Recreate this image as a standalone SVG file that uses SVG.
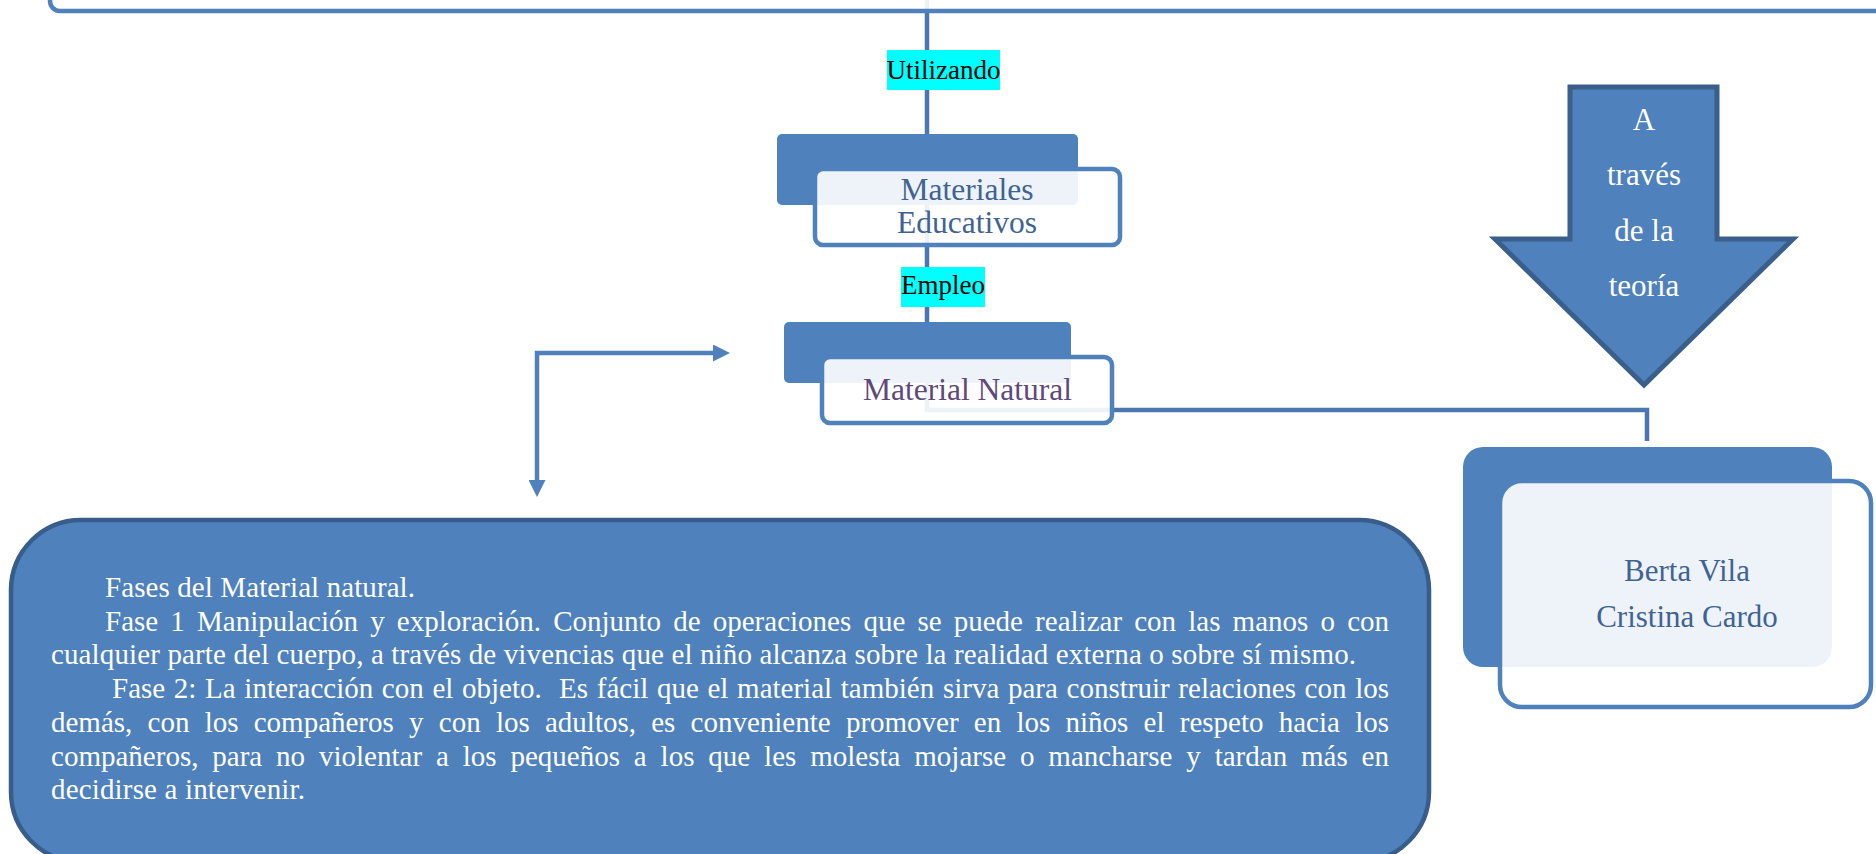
<svg xmlns="http://www.w3.org/2000/svg" width="1876" height="854" viewBox="0 0 1876 854">
<style>
.conn{fill:none;stroke:#4A77B0;stroke-width:4.5}
.back{fill:#4F81BD}
.front{fill:#FFFFFF;fill-opacity:0.9;stroke:#4F81BD;stroke-width:4.5}
.lbl{font-family:"Liberation Serif","Times New Roman",serif;font-size:27px;fill:#000000;text-anchor:middle}
.node{font-family:"Liberation Serif","Times New Roman",serif;font-size:31.5px;fill:#3F6393;text-anchor:middle}
.arrowtxt{font-family:"Liberation Serif","Times New Roman",serif;font-size:31px;fill:#FFFFFF;text-anchor:middle}
.body{font-family:"Liberation Serif","Times New Roman",serif;font-size:29px;fill:#FFFFFF}
</style>
<defs>
<marker id="ah" viewBox="0 0 17 17" refX="0" refY="8.5" markerWidth="17" markerHeight="17" markerUnits="userSpaceOnUse" orient="auto-start-reverse">
<path d="M0,0 L17,8.5 L0,17 z" fill="#4F81BD"/>
</marker>
</defs>

<g id="connectors">
<path class="conn" d="M927 0 V322"/>
<path class="conn" d="M927 383 V410 H1647 V441"/>
<path d="M537 480 V353 H713" fill="none" stroke="#4F81BD" stroke-width="4.5" marker-start="url(#ah)" marker-end="url(#ah)"/>
</g>

<g id="top-box">
<rect x="50" y="-40" width="1900" height="51" rx="10" class="front"/>
</g>

<g id="label-utilizando">
<rect x="887" y="50" width="113" height="40" fill="#00FFFF"/>
<text x="943.5" y="79" class="lbl">Utilizando</text>
</g>

<g id="materiales-educativos">
<rect x="777" y="134" width="301" height="71" rx="5" class="back"/>
<rect x="815" y="169" width="305" height="76" rx="8" class="front"/>
<text x="967" y="200" class="node">Materiales</text>
<text x="967" y="233" class="node">Educativos</text>
</g>

<g id="label-empleo">
<rect x="901" y="267" width="84" height="40" fill="#00FFFF"/>
<text x="943" y="294" class="lbl">Empleo</text>
</g>

<g id="material-natural">
<rect x="784" y="322" width="287" height="61" rx="5" class="back"/>
<rect x="822" y="357" width="290" height="66" rx="8" class="front"/>
<text x="967.5" y="400" class="node" fill="#5F497A" style="fill:#5F497A">Material Natural</text>
</g>

<g id="arrow-teoria">
<polygon points="1570,87 1717,87 1717,239 1793,239 1644,385 1495,239 1570,239" fill="#4F81BD" stroke="#3A5F8B" stroke-width="5" stroke-linejoin="miter"/>
<text x="1644" y="130" class="arrowtxt">A</text>
<text x="1644" y="185" class="arrowtxt">través</text>
<text x="1644" y="241" class="arrowtxt">de la</text>
<text x="1644" y="296" class="arrowtxt">teoría</text>
</g>

<g id="autores">
<rect x="1463" y="447" width="369" height="220" rx="20" class="back"/>
<rect x="1500" y="481" width="371" height="226" rx="22" class="front" stroke-width="5"/>
<text x="1687" y="581" class="node" style="font-size:31px">Berta Vila</text>
<text x="1687" y="627" class="node" style="font-size:31px">Cristina Cardo</text>
</g>

<g id="fases">
<rect x="11" y="520" width="1418" height="342" rx="70" fill="#4F81BD" stroke="#385D8A" stroke-width="4.5"/>
<text class="body" x="105" y="597" textLength="310" lengthAdjust="spacing">Fases del Material natural.</text>
<text class="body" x="105" y="630.5" word-spacing="4.9" textLength="1284" lengthAdjust="spacing">Fase 1 Manipulación y exploración. Conjunto de operaciones que se puede realizar con las manos o con</text>
<text class="body" x="51" y="664" textLength="1305" lengthAdjust="spacing">cualquier parte del cuerpo, a través de vivencias que el niño alcanza sobre la realidad externa o sobre sí mismo.</text>
<text class="body" x="112" y="698" word-spacing="1.4" textLength="1277" lengthAdjust="spacing" xml:space="preserve">Fase 2: La interacción con el objeto.  Es fácil que el material también sirva para construir relaciones con los</text>
<text class="body" x="51" y="732" word-spacing="8" textLength="1338" lengthAdjust="spacing">demás, con los compañeros y con los adultos, es conveniente promover en los niños el respeto hacia los</text>
<text class="body" x="51" y="766" word-spacing="6.6" textLength="1338" lengthAdjust="spacing">compañeros, para no violentar a los pequeños a los que les molesta mojarse o mancharse y tardan más en</text>
<text class="body" x="51" y="799" textLength="254" lengthAdjust="spacing">decidirse a intervenir.</text>
</g>
</svg>
